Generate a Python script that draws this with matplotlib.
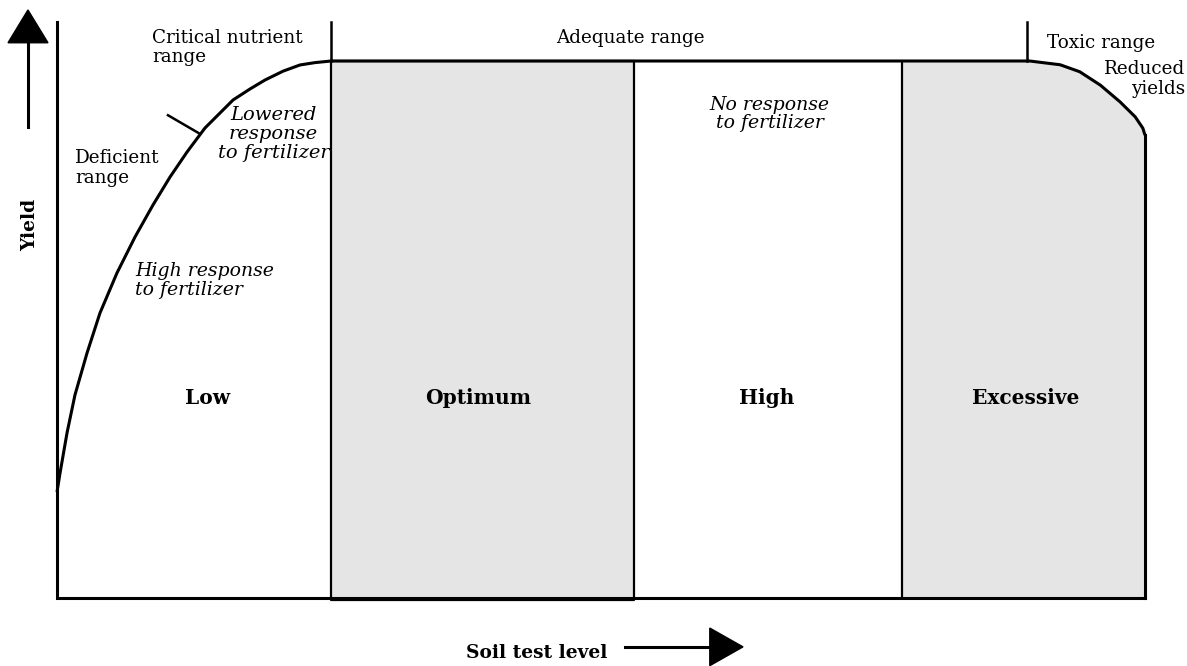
import numpy as np
import matplotlib
matplotlib.use("Agg")
import matplotlib.pyplot as plt

# soil test level (0-100) vs relative yield (0-100)
zone_edges = [0, 25.2, 53.0, 77.7, 100]
zone_names = ["Low", "Optimum", "High", "Excessive"]
zone_label_x = [13.88, 38.7, 65.2, 89.0]

# yield response curve
rise_x = [0.0, 0.28, 0.92, 1.65, 2.76, 3.95, 5.51, 7.17, 8.82, 10.39, 11.95,
          13.60, 16.18, 17.74, 19.12, 20.77, 22.33, 23.71, 25.2]
rise_y = [19.74, 23.28, 30.73, 37.80, 45.62, 53.07, 60.52, 67.23, 73.18, 78.40, 83.05,
          87.52, 92.74, 94.79, 96.46, 98.1, 99.26, 99.7, 100]
fall_x = [89.4, 92.2, 94.0, 95.9, 97.7, 99.1, 99.8, 100]
fall_y = [100, 99.3, 98.0, 95.5, 92.4, 89.6, 87.5, 86.2]

critical_x = 25.2
toxic_x = 89.2

SERIF = "DejaVu Serif"
FS = 13.2
FS_IT = 13.6
LS = 1.12

fig = plt.figure(figsize=(11.87, 6.66), dpi=100)
fig.patch.set_facecolor("white")
ax = fig.add_axes([57 / 1187, 68 / 666, 1088 / 1187, 537 / 666])
ax.set_xlim(0, 100)
ax.set_ylim(0, 100)
ax.axis("off")

curve_x = np.array(rise_x + fall_x)
curve_y = np.array(rise_y + fall_y)

# shaded zones
ax.fill_between([zone_edges[1], zone_edges[2]], 0, 100, color="#e5e5e5", lw=0, zorder=1)
ex_x = np.array([zone_edges[3]] + fall_x)
ex_y = np.array([100] + fall_y)
ax.fill_between(ex_x, 0, ex_y, color="#e5e5e5", lw=0, zorder=1)

# zone borders
ax.plot([zone_edges[1], zone_edges[1], zone_edges[2], zone_edges[2], zone_edges[1]],
        [100, -0.3, -0.3, 100, 100], color="black", lw=1.6, zorder=2, clip_on=False)
ax.plot([zone_edges[3], zone_edges[3]], [0, 100], color="black", lw=1.6, zorder=2)
ax.plot([100, 100], [0, fall_y[-1]], color="black", lw=2.2, zorder=3, clip_on=False)

# axes lines
ax.plot([0, 0, 100], [107.3, 0, 0], color="black", lw=2.2, zorder=3, clip_on=False,
        solid_joinstyle="miter")

# yield curve with plateau
ax.plot(curve_x, curve_y, color="black", lw=2.2, zorder=3, clip_on=False,
        solid_capstyle="butt", solid_joinstyle="round")

# range markers
ax.plot([critical_x, critical_x], [100, 107.3], color="black", lw=1.8, clip_on=False)
ax.plot([toxic_x, toxic_x], [100, 107.3], color="black", lw=1.8, clip_on=False)
ax.plot([10.2, 13.0], [89.9, 86.6], color="black", lw=1.8, zorder=3)

# axis arrows
ax.plot([-2.67, -2.67], [87.7, 103.6], color="black", lw=2.2, clip_on=False)
ax.fill([-4.5, -0.83, -2.67], [103.4, 103.4, 109.5], color="black", clip_on=False)
ax.plot([52.2, 60.2], [-9.1, -9.1], color="black", lw=2.2, clip_on=False)
ax.fill([60.0, 60.0, 63.05], [-5.6, -12.6, -9.1], color="black", clip_on=False)

ax.text(-2.48, 69.5, "Yield", rotation=90, ha="center", va="center",
        family=SERIF, weight="bold", fontsize=13.4)
ax.text(44.1, -10.3, "Soil test level", ha="center", va="center",
        family=SERIF, weight="bold", fontsize=13.4)

# zone names
for name, mid in zip(zone_names, zone_label_x):
    ax.text(mid, 37.2, name, ha="center", va="center", family=SERIF,
            weight="bold", fontsize=14.5)

# range labels
ax.text(8.73, 106.0, "Critical nutrient\nrange", ha="left", va="top",
        family=SERIF, fontsize=FS, linespacing=LS)
ax.text(52.7, 104.3, "Adequate range", ha="center", va="center", family=SERIF, fontsize=FS)
ax.text(91.0, 103.4, "Toxic range", ha="left", va="center", family=SERIF, fontsize=FS)
ax.text(103.7, 100.2, "Reduced\nyields", ha="right", va="top", multialignment="right",
        family=SERIF, fontsize=FS, linespacing=LS)
ax.text(1.65, 83.6, "Deficient\nrange", ha="left", va="top", family=SERIF,
        fontsize=FS, linespacing=LS)

ax.text(19.9, 91.6, "Lowered\nresponse\nto fertilizer", ha="center", va="top",
        family=SERIF, style="italic", fontsize=14.0, linespacing=1.08)
ax.text(7.17, 62.6, "High response\nto fertilizer", ha="left", va="top",
        family=SERIF, style="italic", fontsize=FS_IT, linespacing=1.05)
ax.text(65.5, 93.5, "No response\nto fertilizer", ha="center", va="top",
        family=SERIF, style="italic", fontsize=FS_IT, linespacing=1.02)

plt.savefig("out.png", dpi=100, facecolor="white")
